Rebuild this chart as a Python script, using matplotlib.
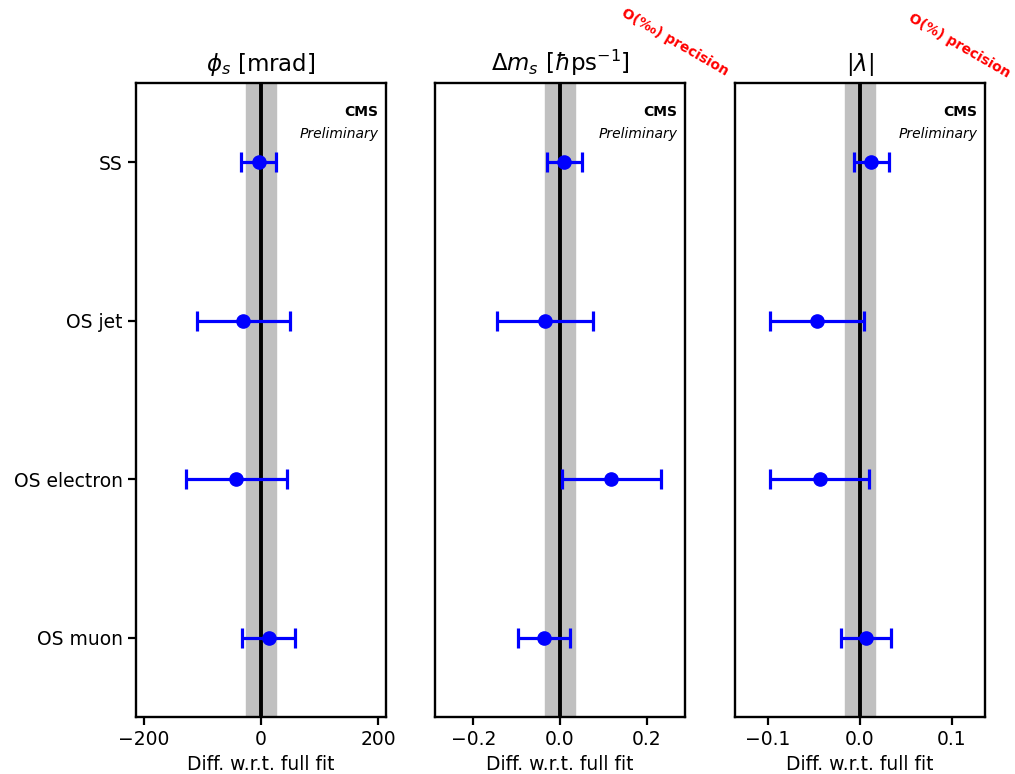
import numpy as np
import matplotlib.pyplot as plt

categories = ['OS muon', 'OS electron', 'OS jet', 'SS']

phis_val = [13, -42, -30, -4]
phis_err = [45, 86, 80, 30]

dms_val = [-0.037, 0.118, -0.035, 0.01]
dms_err = [0.06, 0.114, 0.11, 0.04]

lam_val = [0.0065, -0.044, -0.047, 0.0125]
lam_err = [0.027, 0.054, 0.051, 0.019]

titles = [r'$\phi_s$ [mrad]', r'$\Delta m_s$ [$\hbar$ps$^{-1}$]', r'$|\lambda|$']
bands = [25, 0.035, 0.016]
xlims = [213.7, 0.288, 0.136]
xticks = [[-200, 0, 200], [-0.2, 0.0, 0.2], [-0.1, 0.0, 0.1]]
precision = [None, 'O(‰) precision', 'O(%) precision']
prec_pos = [None, (0.665, 0.946), (0.945, 0.941)]

fig = plt.figure(figsize=(10.15, 7.74), dpi=100)
lefts = [0.134, 0.4286, 0.7241]
y = np.arange(len(categories))
vals = [phis_val, dms_val, lam_val]
errs = [phis_err, dms_err, lam_err]

for i in range(3):
    ax = fig.add_axes([lefts[i], 0.0736, 0.2463, 0.819])
    ax.axvspan(-bands[i], bands[i], color='silver', zorder=0)
    ax.axvline(0, color='black', lw=2.8, zorder=1)
    ax.errorbar(vals[i], y, xerr=errs[i], fmt='o', color='blue', ms=9.5,
                lw=2.3, capsize=7.5, capthick=2.3, zorder=3)
    ax.set_xlim(-xlims[i], xlims[i])
    ax.set_ylim(-0.5, 3.5)
    ax.set_xticks(xticks[i])
    ax.tick_params(labelsize=13.5, width=1.6, length=6)
    for s in ax.spines.values():
        s.set_linewidth(1.7)
    if i == 0:
        ax.set_yticks(y)
        ax.set_yticklabels(categories)
    else:
        ax.set_yticks([])
    ax.set_title(titles[i], fontsize=16.5, pad=9)
    ax.set_xlabel('Diff. w.r.t. full fit', fontsize=13.5)
    ax.text(0.97, 0.955, 'CMS', transform=ax.transAxes, ha='right', va='center',
            fontsize=10, fontweight='bold')
    ax.text(0.97, 0.92, 'Preliminary', transform=ax.transAxes, ha='right', va='center',
            fontsize=10, style='italic')
    if precision[i]:
        fig.text(prec_pos[i][0], prec_pos[i][1], precision[i], ha='center', va='center',
                 fontsize=10, fontweight='bold', color='red', rotation=-30)

fig.savefig('out.png', dpi=100)
